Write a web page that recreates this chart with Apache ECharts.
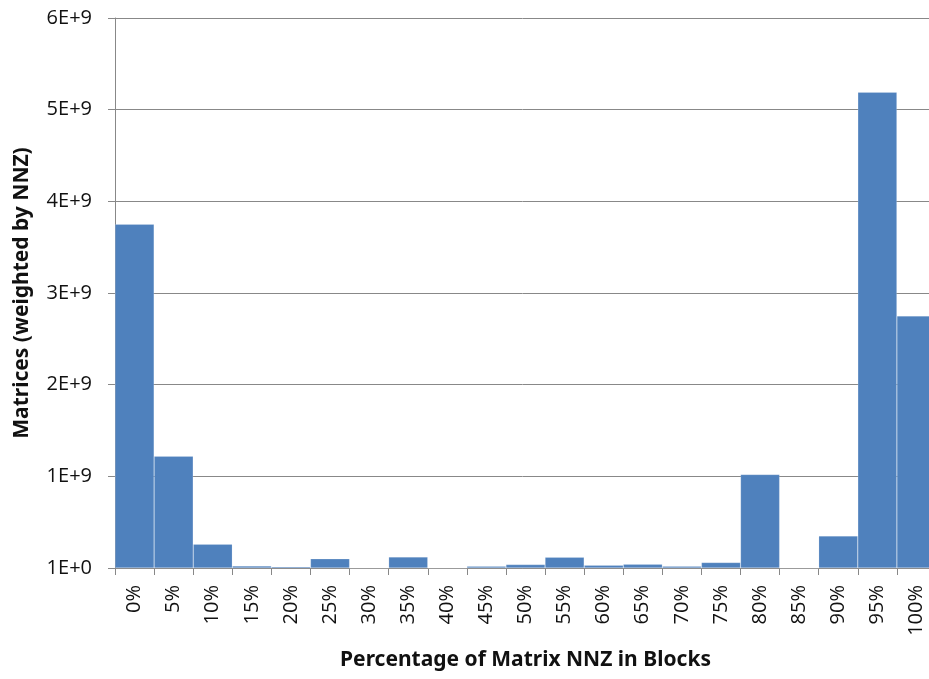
<!DOCTYPE html>
<html>
<head>
<meta charset="UTF-8">
<title></title>
<script src="https://cdn.jsdelivr.net/npm/echarts@6/dist/echarts.min.js"></script>
<style>
  html, body { margin: 0; padding: 0; background: #fff; }
  #main { width: 929px; height: 679px; }
</style>
</head>
<body>
<div id="main"></div>
<script>
// categories on the x axis
var categories = ['0%', '5%', '10%', '15%', '20%', '25%', '30%', '35%', '40%', '45%', '50%',
  '55%', '60%', '65%', '70%', '75%', '80%', '85%', '90%', '95%', '100%'];
// matrices weighted by nnz
var values = [3.75e9, 1.22e9, 0.26e9, 0.022e9, 0.015e9, 0.10e9, 0, 0.12e9, 0, 0.018e9, 0.037e9,
  0.117e9, 0.03e9, 0.04e9, 0.02e9, 0.06e9, 1.02e9, 0, 0.35e9, 5.19e9, 2.75e9];

var font = '"Open Sans", "Noto Sans", sans-serif';
var titleFont = '"Noto Sans", "Open Sans", sans-serif';

var myChart = echarts.init(document.getElementById('main'));
var option = {
  animation: false,
  grid: {
    left: 115,
    right: -7,
    top: 18,
    bottom: 111,
    outerBoundsMode: 'none',
    containLabel: false
  },
  xAxis: {
    type: 'category',
    data: categories,
    name: 'Percentage of Matrix NNZ in Blocks',
    nameLocation: 'middle',
    nameGap: 82,
    nameTextStyle: { fontFamily: titleFont, fontWeight: 'bold', fontSize: 21, color: '#111' },
    axisLine: { lineStyle: { color: '#888', width: 1 } },
    axisTick: { show: true, length: 7, lineStyle: { color: '#888' } },
    axisLabel: { rotate: 90, fontFamily: font, fontSize: 20, color: '#111', margin: 17, interval: 0 }
  },
  yAxis: {
    type: 'value',
    min: 0,
    max: 6e9,
    interval: 1e9,
    name: 'Matrices (weighted by NNZ)',
    nameLocation: 'middle',
    nameGap: 82,
    nameRotate: 90,
    nameTextStyle: { fontFamily: titleFont, fontWeight: 'bold', fontSize: 21, color: '#111' },
    axisLine: { show: true, lineStyle: { color: '#888', width: 1 } },
    axisTick: { show: true, length: 7, lineStyle: { color: '#888' } },
    splitLine: { lineStyle: { color: '#888', width: 1 } },
    axisLabel: {
      fontFamily: font, fontSize: 20, color: '#111', margin: 23,
      formatter: function (v) {
        if (v === 0) return '1E+0';
        return Math.round(v / 1e9) + 'E+9';
      }
    }
  },
  series: [{
    type: 'bar',
    data: values,
    barCategoryGap: '0%',
    itemStyle: { color: '#4f81bd', borderColor: 'rgba(255,255,255,0.35)', borderWidth: 0.5 }
  }]
};
myChart.setOption(option);
</script>
</body>
</html>
